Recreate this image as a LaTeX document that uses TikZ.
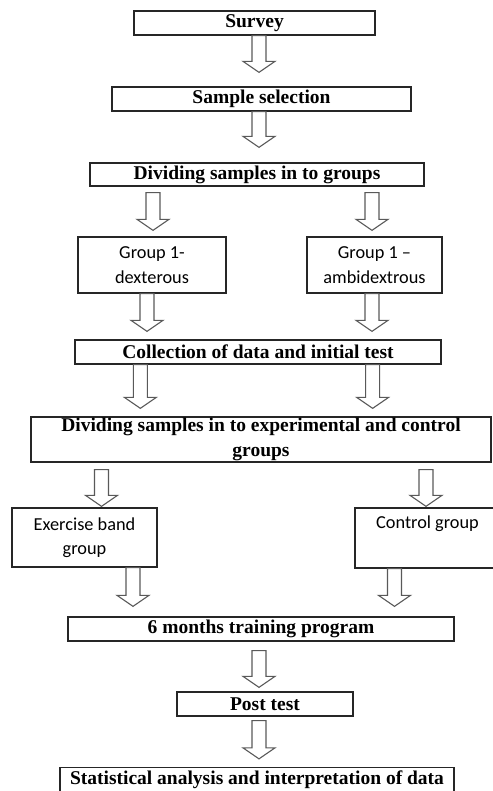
\documentclass[tikz,border=0pt]{standalone}
\usepackage{fontspec}
\setmainfont{Liberation Serif}
\newfontfamily\calibri{Carlito}
\usetikzlibrary{calc}
\tikzset{
	stepbox/.style={draw=black!85, line width=1.3pt, inner sep=0pt, align=center,
			font=\fontsize{19.5}{25}\selectfont\bfseries},
	groupbox/.style={draw=black!85, line width=1.3pt, inner sep=0pt, align=center,
			font=\calibri\fontsize{18.3}{24.5}\selectfont},
	hollow/.style={draw=black!65, line width=1.1pt, line join=miter}
}
% block arrow: x and top from #1, tip height from #2
\newcommand{\hollowarrow}[2]{%
	\draw[hollow] let \p1=#1, \p2=#2 in
		(\x1-7pt,\y1) -- (\x1-7pt,\y2+11pt) -- (\x1-16pt,\y2+11pt) -- (\x1,\y2)
		-- (\x1+16pt,\y2+11pt) -- (\x1+7pt,\y2+11pt) -- (\x1+7pt,\y1) -- cycle;
}

\begin{document}
\begin{tikzpicture}[x=1pt,y=-1pt]
	\useasboundingbox (0,0) rectangle (492,791);

	\node[stepbox, minimum width=241pt, minimum height=24pt] (survey) at (254.5,23) {Survey};
	\node[stepbox, minimum width=299pt, minimum height=24pt] (sample) at (261.5,99) {Sample selection};
	\node[stepbox, minimum width=334pt, minimum height=23pt] (divide) at (257,174.5) {Dividing samples in to groups};

	\node[groupbox, minimum width=148pt, minimum height=56pt] (dext) at (152,265) {Group 1-\\dexterous};
	\node[groupbox, minimum width=135pt, minimum height=56pt] (ambi) at (374.5,265) {Group 1 –\\ambidextrous};

	\node[stepbox, minimum width=366pt, minimum height=24pt] (collect) at (258,352) {Collection of data and initial test};
	\node[stepbox, minimum width=460pt, minimum height=45pt] (divexp) at (261,439.5)
		{Dividing samples in to experimental and control\\groups};

	\node[groupbox, minimum width=145pt, minimum height=59pt] (exer) at (84.5,537.5) {Exercise band\\group};
	\node[groupbox, minimum width=145pt, minimum height=60pt] (control) at (427.5,538) {Control group\\\strut};

	\node[stepbox, minimum width=386pt, minimum height=24pt] (months) at (261,629) {6 months training program};
	\node[stepbox, minimum width=176pt, minimum height=24pt] (post) at (265,704) {Post test};
	\node[stepbox, minimum width=394pt, minimum height=24pt] (stat) at (257,779.5)
		{Statistical analysis and interpretation of data};

	\hollowarrow{($(survey.south)+(4.5,0)$)}{($(sample.north)+(0,-14)$)}
	\hollowarrow{($(sample.south)+(-2.5,0)$)}{($(divide.north)+(0,-15)$)}

	\hollowarrow{($(dext.north |- divide.south)+(1,6)$)}{($(dext.north)+(0,-6)$)}
	\hollowarrow{($(ambi.north |- divide.south)+(-2.5,6)$)}{($(ambi.north)+(0,-6)$)}

	\hollowarrow{($(dext.south)+(-5,0)$)}{($(collect.north)+(0,-8)$)}
	\hollowarrow{($(ambi.south)+(-2.5,0)$)}{($(collect.north)+(0,-8)$)}

	\hollowarrow{($(collect.south west)+(66,0)$)}{($(divexp.north)+(0,-8)$)}
	\hollowarrow{($(collect.south east)+(-69,0)$)}{($(divexp.north)+(0,-8)$)}

	\hollowarrow{($(exer.north |- divexp.south)+(17,7)$)}{($(exer.north)+(0,-1)$)}
	\hollowarrow{($(control.north |- divexp.south)+(-1.5,7)$)}{($(control.north)+(0,-1)$)}

	\hollowarrow{($(exer.south)+(48.5,0)$)}{($(months.north)+(0,-10)$)}
	\hollowarrow{($(control.south)+(-33,0)$)}{($(months.north)+(0,-10)$)}

	\hollowarrow{($(months.south)+(-2,9)$)}{($(post.north)+(0,-4)$)}
	\hollowarrow{($(post.south)+(-6,4)$)}{($(stat.north)+(0,-8)$)}
\end{tikzpicture}
\end{document}
